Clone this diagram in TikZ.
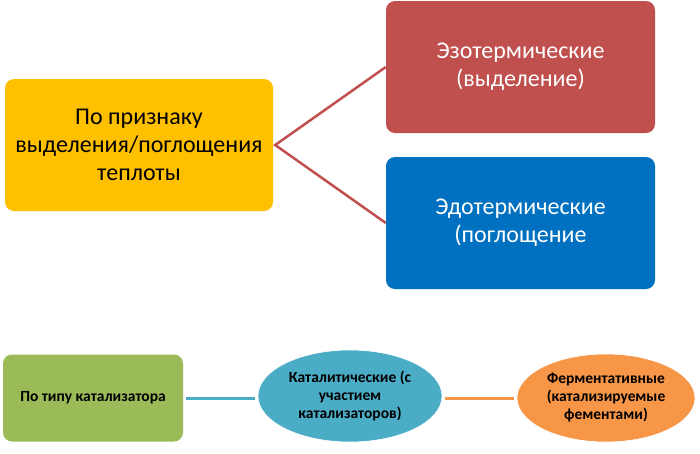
\documentclass[tikz,border=0pt]{standalone}
\usepackage{fontspec}
\setmainfont{Carlito}
\usetikzlibrary{shapes.geometric}

\definecolor{amarillo}{HTML}{FFC000}
\definecolor{rojo}{HTML}{C0504D}
\definecolor{azul}{HTML}{0070C0}
\definecolor{verde}{HTML}{9BBB59}
\definecolor{turquesa}{HTML}{4BACC6}
\definecolor{naranja}{HTML}{F79646}

\begin{document}
\begin{tikzpicture}[x=1pt,y=-1pt,
    caja/.style={rectangle, rounded corners=9pt, align=center, inner sep=0pt},
    grande/.style={font=\fontsize{24}{28}\selectfont},
    chico/.style={font=\fontsize{15.5}{18}\selectfont\bfseries},
    elipse/.style={ellipse, align=center, inner sep=0pt, draw=white, line width=0.6pt}]

    \useasboundingbox (0,0) rectangle (700,453);

    % Calor
    \node[caja, grande, fill=amarillo, minimum width=268pt, minimum height=132pt]
        (calor) at (139,145) {По признаку\\выделения/поглощения\\теплоты};
    \node[caja, grande, fill=rojo, text=white, minimum width=269pt, minimum height=132pt]
        (exo) at (520.5,67) {Эзотермические\\(выделение)};
    \node[caja, grande, fill=azul, text=white, minimum width=269pt, minimum height=132pt]
        (endo) at (520.5,223) {Эдотермические\\(поглощение};

    \draw[rojo, line width=2.5pt] (exo.west) -- ([xshift=2pt]calor.east) -- (endo.west);

    % Catalizador
    \node[caja, chico, fill=verde, minimum width=180pt, minimum height=87pt]
        (tipo) at (93,398) {По типу катализатора};
    \node[elipse, chico, fill=turquesa, minimum width=184pt, minimum height=92pt]
        (catal) at (350,396) {Каталитические (с\\участием\\катализаторов)};
    \node[elipse, chico, fill=naranja, minimum width=178pt, minimum height=88pt]
        (ferm) at (606,398) {Ферментативные\\(катализируемые\\фементами)};

    \draw[turquesa, line width=3pt] (tipo.east) ++(3,0) -- ([xshift=-3pt]catal.west |- tipo.east);
    \draw[naranja, line width=3pt] ([xshift=3pt]catal.east |- tipo.east) -- ([xshift=-3pt]ferm.west |- tipo.east);

\end{tikzpicture}
\end{document}
